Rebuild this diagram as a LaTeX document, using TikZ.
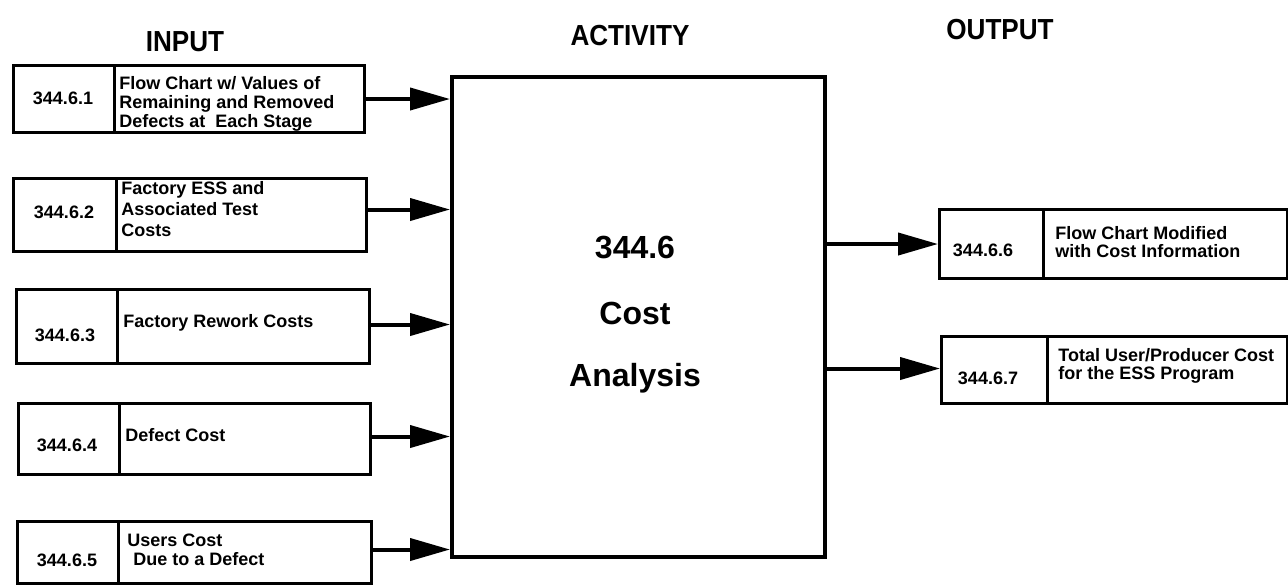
\documentclass[tikz,border=0pt]{standalone}
\usepackage{fontspec}
\setmainfont{Liberation Sans}
\usetikzlibrary{arrows.meta}
\begin{document}
\begin{tikzpicture}[x=0.5pt,y=-0.5pt,
  cell/.style={draw, line width=1.5pt, inner sep=0pt, anchor=north west},
  num/.style={font=\bfseries\fontsize{9}{10}\selectfont, inner sep=0pt},
  txt/.style={font=\bfseries\fontsize{9}{9.6}\selectfont, inner sep=0pt, anchor=west, align=left},
  head/.style={font=\bfseries\fontsize{14.5}{14.5}\selectfont, inner sep=0pt, xscale=0.9},
  big/.style={font=\bfseries\fontsize{16}{16}\selectfont, inner sep=0pt},
  arr/.style={line width=2pt, -{Triangle[length=20pt,width=11pt]}},
]
\useasboundingbox (0,0) rectangle (1288,586);

% headers
\node[head] (hin) at (185,42) {INPUT};
\node[head] (hact) at (630,36) {ACTIVITY};
\node[head] (hout) at (1000,30) {OUTPUT};

% activity box
\node[draw, line width=2pt, anchor=north west, minimum width=186.5pt, minimum height=240pt, inner sep=0pt] (act) at (450,75) {};
\node[big] (a1) at (635,247) {344.6};
\node[big] (a2) at (635,313) {Cost};
\node[big] (a3) at (635,378) {Analysis};

% input 1
\node[cell, minimum width=50.5pt, minimum height=33.5pt] (c1) at (12,64) {};
\node[cell, minimum width=125pt, minimum height=33.5pt] (t1) at (113,64) {};
\node[num] (n1) at (63,98) {344.6.1};
\node[txt] (x1) at (119,104) {Flow Chart w/ Values of\\Remaining and Removed\\Defects at\ \ Each Stage};

% input 2
\node[cell, minimum width=51.5pt, minimum height=36.5pt] (c2) at (12,177) {};
\node[cell, minimum width=125pt, minimum height=36.5pt] (t2) at (115,177) {};
\node[num] (n2) at (64,212) {344.6.2};
\node[txt, font=\bfseries\fontsize{9}{10.5}\selectfont] (x2) at (121,209) {Factory ESS and\\Associated Test\\Costs};

% input 3
\node[cell, minimum width=50.5pt, minimum height=37pt] (c3) at (15,288) {};
\node[cell, minimum width=126pt, minimum height=37pt] (t3) at (116,288) {};
\node[num] (n3) at (65,335) {344.6.3};
\node[txt] (x3) at (123,323) {Factory Rework Costs};

% input 4
\node[cell, minimum width=50.5pt, minimum height=35.5pt] (c4) at (17,402) {};
\node[cell, minimum width=125.5pt, minimum height=35.5pt] (t4) at (118,402) {};
\node[num] (n4) at (67,445) {344.6.4};
\node[txt] (x4) at (125,435) {Defect Cost};

% input 5
\node[cell, minimum width=50.5pt, minimum height=31pt] (c5) at (16,520) {};
\node[cell, minimum width=126.5pt, minimum height=31pt] (t5) at (117,520) {};
\node[num] (n5) at (67,560) {344.6.5};
\node[txt] (x5) at (127,550) {Users Cost\\\hspace*{3pt}Due to a Defect};

% output 1
\node[cell, minimum width=52pt, minimum height=34.5pt] (oc1) at (938,208) {};
\node[cell, minimum width=122pt, minimum height=34.5pt] (ot1) at (1042,208) {};
\node[num] (on1) at (983,250) {344.6.6};
\node[txt, font=\bfseries\fontsize{9}{8.8}\selectfont] (ox1) at (1055,242) {Flow Chart Modified\\with Cost Information};

% output 2
\node[cell, minimum width=53pt, minimum height=33.5pt] (oc2) at (940,335) {};
\node[cell, minimum width=120pt, minimum height=33.5pt] (ot2) at (1046,335) {};
\node[num] (on2) at (988,378) {344.6.7};
\node[txt, font=\bfseries\fontsize{9}{9}\selectfont] (ox2) at (1058,366) {Total User/Producer Cost\\for the ESS Program};

% connectors
\draw[arr] (t1.east) -- (t1.east -| act.west);
\draw[arr] ([xshift=-1.5pt,yshift=2.75pt]t2.east) -- ([yshift=2.75pt]t2.east -| act.west);
\draw[arr] ([yshift=1pt]t3.east) -- ([yshift=1pt]t3.east -| act.west);
\draw[arr] ([yshift=1.25pt]t4.east) -- ([yshift=1.25pt]t4.east -| act.west);
\draw[arr] ([yshift=1.5pt]t5.east) -- ([yshift=1.5pt]t5.east -| act.west);
\draw[arr] (oc1.west -| act.east) -- (oc1.west);
\draw[arr] ([yshift=0.75pt]oc2.west -| act.east) -- ([yshift=0.75pt]oc2.west);
\end{tikzpicture}
\end{document}
